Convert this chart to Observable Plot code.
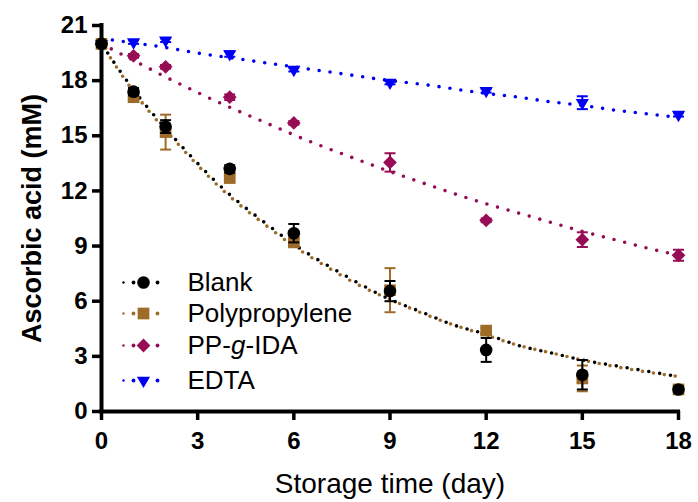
<!DOCTYPE html>
<html>
<head>
<meta charset="utf-8">
<script src="https://cdn.jsdelivr.net/npm/d3@7"></script>
<script src="https://cdn.jsdelivr.net/npm/@observablehq/plot@0.6"></script>
<style>
  html, body { margin: 0; padding: 0; background: white; }
</style>
</head>
<body>
<div id="chart"></div>
<script>
// ---- Data ----
const days = [0, 1, 2, 4, 6, 9, 12, 15, 18];
const seriesNames = ["Blank", "Polypropylene", "PP-g-IDA", "EDTA"];

const blankValues = [20.0, 17.4, 15.5, 13.2, 9.7, 6.55, 3.35, 2.0, 1.2];
const blankSd     = [0.15, 0.2, 0.35, 0.2, 0.5, 0.55, 0.65, 0.8, 0.15];
const ppValues    = [20.0, 17.1, 15.2, 12.7, 9.2, 6.6, 4.4, 1.8, 1.2];
const ppSd        = [0.15, 0.2, 0.95, 0.2, 0.2, 1.2, 0.15, 0.7, 0.1];
const idaValues   = [20.0, 19.35, 18.75, 17.1, 15.7, 13.55, 10.4, 9.35, 8.5];
const idaSd       = [0.1, 0.1, 0.1, 0.15, 0.1, 0.5, 0.1, 0.4, 0.3];
const edtaValues  = [20.0, 20.1, 20.2, 19.45, 18.6, 17.9, 17.45, 16.8, 16.15];
const edtaSd      = [0.1, 0.1, 0.1, 0.15, 0.1, 0.1, 0.1, 0.35, 0.1];

// fitted curves at each day
const fitDays  = [0, 1, 2, 3, 4, 5, 6, 7, 8, 9, 10, 11, 12, 13, 14, 15, 16, 17, 18];
const blankFit = [20, 17.5, 15.4, 13.5, 11.8, 10.4, 9.1, 8.0, 7.0, 6.1, 5.4, 4.7, 4.2, 3.6, 3.2, 2.8, 2.5, 2.2, 1.9];
const ppFit    = [20, 17.4, 15.3, 13.4, 11.7, 10.3, 9.0, 7.9, 6.9, 6.1, 5.35, 4.7, 4.15, 3.6, 3.2, 2.8, 2.45, 2.15, 1.9];
const idaFit   = [20, 19.1, 18.2, 17.35, 16.55, 15.8, 15.05, 14.35, 13.7, 13.05, 12.45, 11.85, 11.3, 10.8, 10.3, 9.8, 9.35, 8.9, 8.5];
const edtaFit  = [20.3, 20.05, 19.8, 19.5, 19.25, 19.0, 18.75, 18.5, 18.25, 18.0, 17.8, 17.55, 17.3, 17.1, 16.85, 16.65, 16.4, 16.2, 16.0];

const xTicks = [0, 3, 6, 9, 12, 15, 18];
const yTicks = [0, 3, 6, 9, 12, 15, 18, 21];

// ---- Styles ----
const colors  = {"Blank": "#000000", "Polypropylene": "#9e6c28", "PP-g-IDA": "#960c55", "EDTA": "#0000f5"};
const symbols = {"Blank": "circle", "Polypropylene": "square", "PP-g-IDA": "diamond2", "EDTA": "triangle"};
const radii   = {"Blank": 6.3, "Polypropylene": 6.6, "PP-g-IDA": 6.2, "EDTA": 4.9};
const rotates = {"Blank": 0, "Polypropylene": 0, "PP-g-IDA": 0, "EDTA": 180};
const dashOff = {"Blank": 0, "Polypropylene": 5.5, "PP-g-IDA": 0, "EDTA": 0};

const valueSets = {"Blank": [blankValues, blankSd, blankFit], "Polypropylene": [ppValues, ppSd, ppFit],
                   "PP-g-IDA": [idaValues, idaSd, idaFit], "EDTA": [edtaValues, edtaSd, edtaFit]};

const cap = { draw(ctx) { ctx.moveTo(-5.5, 0); ctx.lineTo(5.5, 0); } };

const drawOrder = ["EDTA", "PP-g-IDA", "Polypropylene", "Blank"];
const marks = [];

// fit lines
for (const name of drawOrder) {
  const fit = valueSets[name][2];
  const rows = fitDays.map((d, i) => ({day: d, v: fit[i]}));
  marks.push(Plot.line(rows, {x: "day", y: "v", stroke: colors[name], strokeWidth: 3.6,
    strokeDasharray: "0 11", strokeDashoffset: dashOff[name], strokeLinecap: "round", curve: "natural"}));
}
// error bars + markers
for (const name of drawOrder) {
  const [vals, sd] = valueSets[name];
  const rows = days.map((d, i) => ({day: d, v: vals[i], lo: vals[i] - sd[i], hi: vals[i] + sd[i]}));
  marks.push(Plot.ruleX(rows, {x: "day", y1: "lo", y2: "hi", stroke: colors[name], strokeWidth: 2}));
  marks.push(Plot.dot(rows, {x: "day", y: "lo", symbol: cap, stroke: colors[name], strokeWidth: 2, fill: "none"}));
  marks.push(Plot.dot(rows, {x: "day", y: "hi", symbol: cap, stroke: colors[name], strokeWidth: 2, fill: "none"}));
  marks.push(Plot.dot(rows, {x: "day", y: "v", symbol: symbols[name], r: radii[name], rotate: rotates[name],
    fill: colors[name], stroke: "none"}));
}

// axes
marks.push(Plot.axisX({ticks: xTicks, tickSize: 9, tickPadding: 11, fontSize: 24, fontWeight: "bold",
  strokeWidth: 3.5, label: null, tickFormat: d => String(d)}));
marks.push(Plot.axisY({ticks: yTicks, tickSize: 9, tickPadding: 5, fontSize: 24, fontWeight: "bold",
  strokeWidth: 3.5, label: null, tickFormat: d => String(d)}));
marks.push(Plot.ruleY([0], {stroke: "black", strokeWidth: 4, strokeLinecap: "square"}));
marks.push(Plot.ruleX([0], {stroke: "black", strokeWidth: 4, strokeLinecap: "square"}));

// titles
marks.push(Plot.text(["Storage time (day)"], {frameAnchor: "bottom", dy: 73, lineAnchor: "middle",
  textAnchor: "middle", fontSize: 28, fill: "black"}));
marks.push(Plot.text(["Ascorbic acid (mM)"], {frameAnchor: "left", dx: -69, rotate: -90, lineAnchor: "middle",
  textAnchor: "middle", fontSize: 27, fontWeight: "bold", fill: "black"}));

// legend (inside the frame, lower left)
const legendDy = [257, 288, 320, 355];
seriesNames.forEach((name, i) => {
  const dy = legendDy[i];
  for (const dx of [22, 32, 56]) {
    marks.push(Plot.dot([name], {frameAnchor: "top-left", dx, dy, r: dx === 22 ? 1.2 : 1.9, fill: colors[name]}));
  }
  marks.push(Plot.dot([name], {frameAnchor: "top-left", dx: 42, dy, symbol: symbols[name], r: radii[name],
    rotate: rotates[name], fill: colors[name]}));
});
const legendText = {textAnchor: "start", lineAnchor: "middle", fontSize: 26, fill: "black", frameAnchor: "top-left"};
marks.push(Plot.text(["Blank"], {...legendText, dx: 86, dy: legendDy[0]}));
marks.push(Plot.text(["Polypropylene"], {...legendText, dx: 86, dy: legendDy[1]}));
marks.push(Plot.text(["EDTA"], {...legendText, dx: 86, dy: legendDy[3]}));
// PP-g-IDA with italic g
marks.push(Plot.text(["PP-"], {...legendText, dx: 86, dy: legendDy[2]}));
marks.push(Plot.text(["g"], {...legendText, dx: 129.5, dy: legendDy[2], fontStyle: "italic"}));
marks.push(Plot.text(["-IDA"], {...legendText, dx: 144, dy: legendDy[2]}));

const chart = Plot.plot({
  width: 698,
  height: 502,
  marginLeft: 101,
  marginRight: 20,
  marginTop: 25,
  marginBottom: 91,
  x: {domain: [0, 18]},
  y: {domain: [0, 21]},
  style: {fontFamily: "'Liberation Sans', Arial, sans-serif", background: "white", color: "black", overflow: "visible"},
  marks
});
document.getElementById("chart").appendChild(chart);
</script>
</body>
</html>
